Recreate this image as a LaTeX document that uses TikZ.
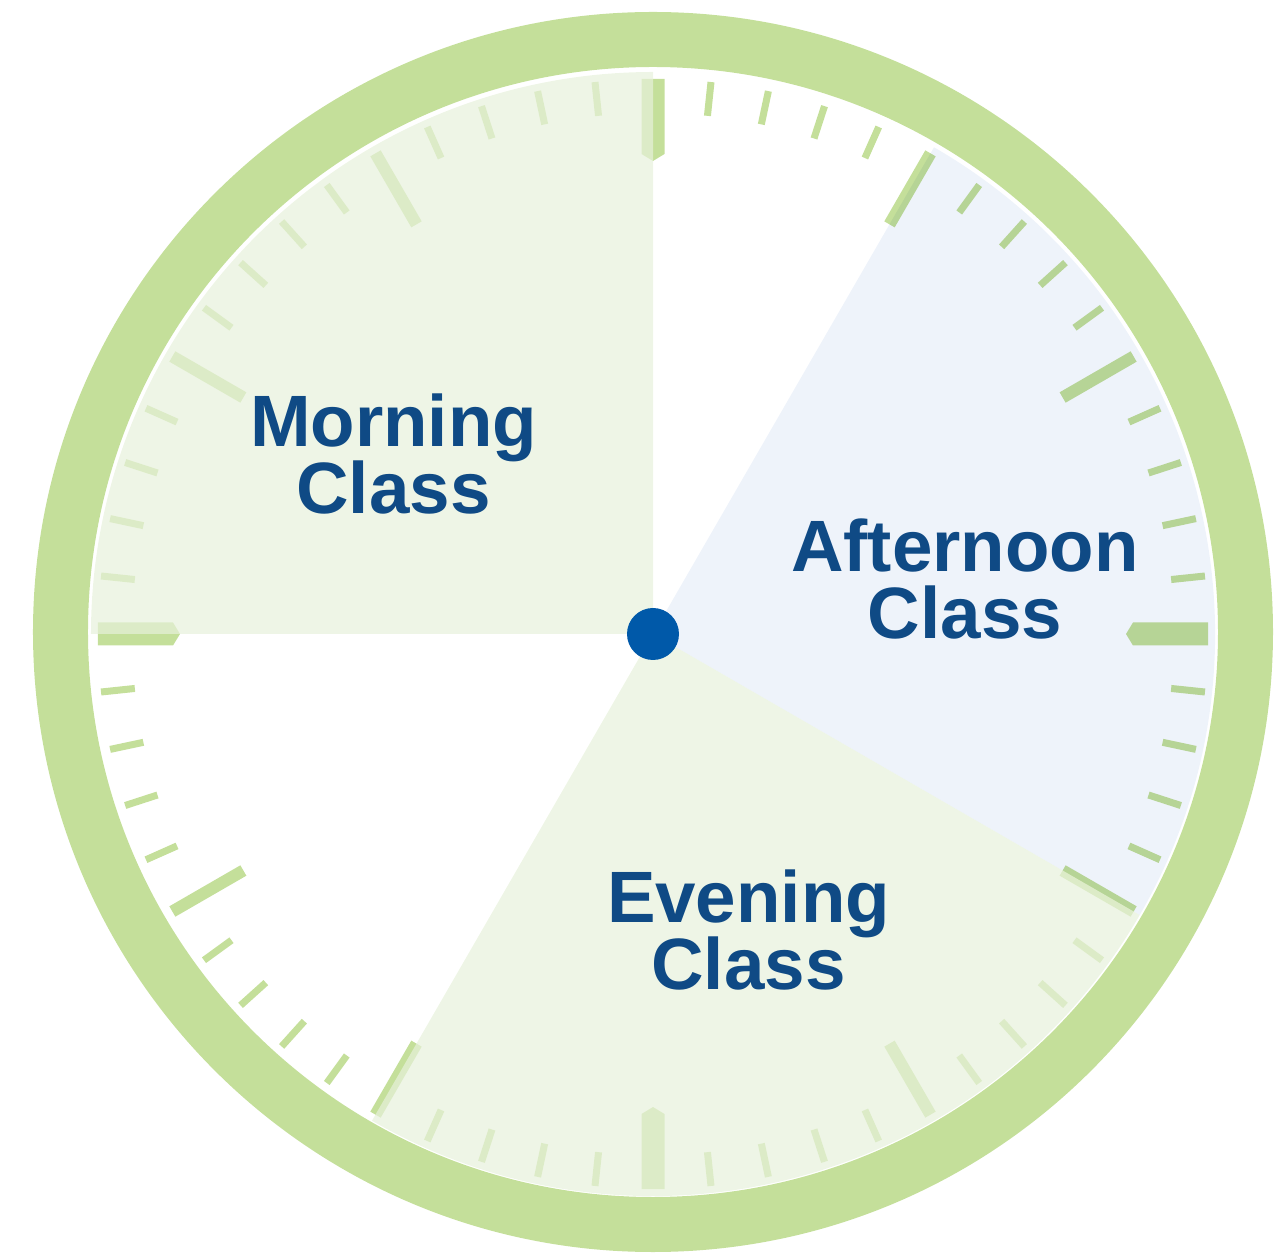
\documentclass[tikz,border=0pt]{standalone}
\usepackage{fontspec}
\setmainfont{Liberation Sans}
\definecolor{ringgreen}{HTML}{C4DF9A}
\definecolor{facegreen}{HTML}{E7F1DB}
\definecolor{faceblue}{HTML}{EEF3FA}
\definecolor{hubblue}{HTML}{0059A9}
\definecolor{textblue}{HTML}{0F4A85}
\lineskiplimit=-10pt
\tikzset{
  classlabel/.style={text=textblue, align=center, inner sep=0pt,
    font=\fontsize{20.7}{18.8}\selectfont\bfseries},
  minutetick/.style={draw=ringgreen, line width=0.07cm, line cap=butt},
  hourtick/.style={draw=ringgreen, line width=0.12cm, line cap=butt},
}
\begin{document}
\begin{tikzpicture}[x=1cm,y=1cm,line cap=round,line join=round]
    \useasboundingbox (-6.53,-6.19) rectangle (6.26,6.34);
    % rim
    \draw[ringgreen, line width=0.55cm] (0,0.02) circle (5.925);
    % minute and hour marks
    \foreach \h in {0,30,...,330}
      \foreach \m in {6,12,18,24}
        \draw[minutetick] ({\h+\m}:5.21) -- ({\h+\m}:5.55);
    \foreach \a in {30,60,120,150,210,240,300,330}
      \draw[hourtick] (\a:4.73) -- (\a:5.55);
    \foreach \a in {0,90,180,270}
      \fill[ringgreen, rotate=\a] (4.73,0) -- (4.80,0.115) -- (5.55,0.115)
        -- (5.55,-0.115) -- (4.80,-0.115) -- cycle;
    % class periods
    \fill[facegreen, opacity=0.7] (0,0) -- (90:5.62)
      arc[start angle=90, end angle=180, radius=5.62] -- cycle;
    \fill[faceblue, blend mode=multiply] (0,0) -- (60:5.62)
      arc[start angle=60, end angle=-30, radius=5.62] -- cycle;
    \fill[facegreen, opacity=0.7] (0,0) -- (-30:5.62)
      arc[start angle=-30, end angle=-120, radius=5.62] -- cycle;
    \node[circle, fill=hubblue, minimum size=0.52cm, inner sep=0pt] (hub) at (0,0) {};
    \node[classlabel] (morning) at (-2.595,1.80) {Morning\\Class};
    \node[classlabel] (afternoon) at (3.12,0.55) {Afternoon\\Class};
    \node[classlabel] (evening) at (0.955,-2.96) {Evening\\Class};
  \end{tikzpicture}
\end{document}
